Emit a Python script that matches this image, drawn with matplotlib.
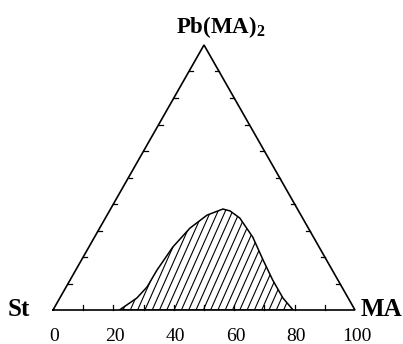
import numpy as np
import matplotlib
matplotlib.use("Agg")
import matplotlib.pyplot as plt
from matplotlib.patches import Polygon

plt.rcParams["mathtext.fontset"] = "custom"
plt.rcParams["mathtext.rm"] = "Liberation Serif"
plt.rcParams["mathtext.bf"] = "Liberation Serif:bold"

# Vertex labels
vertex_labels = ["St", "MA", "Pb(MA)$_\\mathbf{2}$"]
# Bottom axis tick labels (MA %)
bottom_ticks = [0, 20, 40, 60, 80, 100]
minor_ticks = [10, 20, 30, 40, 50, 60, 70, 80, 90]

# Boundary of hatched region: MA (%) and Pb(MA)2 (%) compositions
region_ma = [22.0, 25.5, 26.8, 26.9, 27.8, 29.9, 33.1, 37.2, 39.9, 44.5, 52.4, 60.1, 67.1, 73.9, 79.5]
region_pb = [0.0, 4.5, 8.7, 15.1, 23.8, 30.9, 35.8, 38.1, 37.4, 34.7, 27.5, 18.9, 11.3, 4.5, 0.0]

H = np.sqrt(3) / 2


def tern(ma, pb):
    ma = np.asarray(ma) / 100.0
    pb = np.asarray(pb) / 100.0
    return ma + pb / 2.0, pb * H


fig = plt.figure(figsize=(4.03, 3.44), dpi=100)
ax = fig.add_axes([53 / 403, 34 / 344, 302 / 403, 265 / 344])
ax.set_xlim(0, 1)
ax.set_ylim(0, H)
ax.axis("off")

lw = 1.2
# Triangle
tx, ty = tern([0, 100, 0, 0], [0, 0, 100, 0])
ax.plot(tx, ty, color="black", lw=lw, clip_on=False, solid_joinstyle="miter")

# Ticks
tl = 0.013
for t in minor_ticks:
    # bottom edge
    x, y = tern(t, 0)
    ax.plot([x, x], [y, y + tl * 1.2], color="black", lw=0.9, clip_on=False)
    # left edge (St - Pb)
    x, y = tern(0, t)
    ax.plot([x, x + tl], [y, y], color="black", lw=0.9, clip_on=False)
    # right edge (MA - Pb)
    x, y = tern(100 - t, t)
    ax.plot([x, x - tl], [y, y], color="black", lw=0.9, clip_on=False)

# Hatched region
rx, ry = tern(region_ma, region_pb)
poly = Polygon(np.column_stack([rx, ry]), closed=True, facecolor="none",
               edgecolor="black", lw=1.1)
ax.add_patch(poly)

# Hatch lines (steep diagonal), clipped to region
px_x, px_y = 302.0, 265.0 / H  # pixels per data unit
slope_px = 2.25
spacing = 7.3 / px_x
for x0 in np.arange(-0.3, 1.1, spacing):
    xs = np.array([x0, x0 + (H * px_y / slope_px) / px_x])
    ys = np.array([0, H])
    ln, = ax.plot(xs, ys, color="black", lw=0.8)
    ln.set_clip_path(poly)

serif = ["Liberation Serif", "DejaVu Serif"]
# Vertex labels
ax.text(-0.113, 0.0, vertex_labels[0], fontsize=18, fontweight="bold",
        family=serif, ha="center", va="center")
ax.text(1.087, 0.0, vertex_labels[1], fontsize=18, fontweight="bold",
        family=serif, ha="center", va="center")
ax.text(0.556, H + 0.058, vertex_labels[2], fontsize=16.5, fontweight="bold",
        family=serif, ha="center", va="center")

# Bottom tick labels
for t in bottom_ticks:
    x, y = tern(t, 0)
    ax.text(x + 0.005, -0.085, str(t), fontsize=14, family=serif,
            ha="center", va="center")

fig.savefig("out.png", dpi=100)
